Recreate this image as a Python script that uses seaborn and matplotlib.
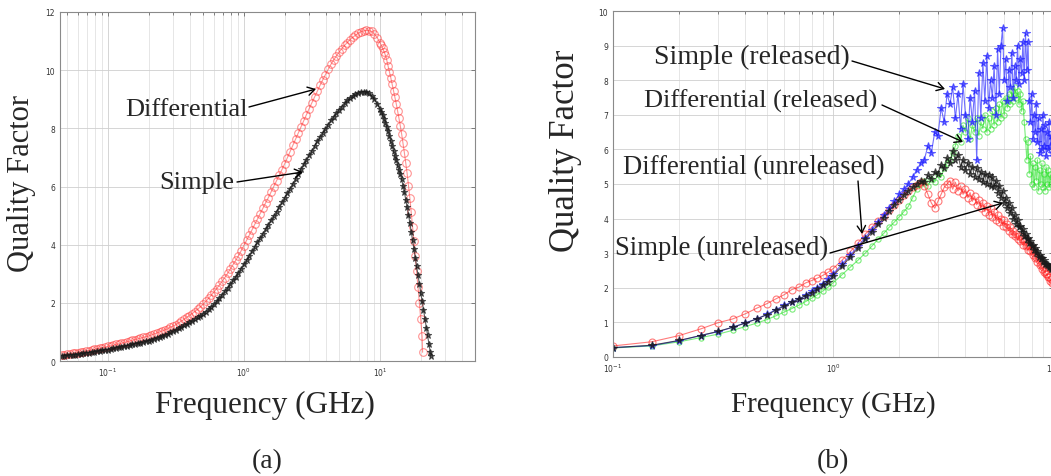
import numpy as np
import matplotlib
matplotlib.use("Agg")
import matplotlib.pyplot as plt
import matplotlib.patches as mpatches
import seaborn as sns

# ---------------- data: panel (a) ----------------
# frequency (GHz), shared by both curves up to ~9.5 GHz
freq_a_common = [0.0457, 0.0479, 0.0501, 0.0525, 0.0550, 0.0575, 0.0603, 0.0631, 0.0661, 0.0692,
                 0.0724, 0.0759, 0.0794, 0.0832, 0.0871, 0.0912, 0.0955, 0.1000, 0.1047, 0.1096,
                 0.1148, 0.1202, 0.1259, 0.1318, 0.1380, 0.1445, 0.1514, 0.1585, 0.1660, 0.1738,
                 0.1820, 0.1905, 0.1995, 0.2089, 0.2188, 0.2291, 0.2399, 0.2512, 0.2630, 0.2754,
                 0.2884, 0.3020, 0.3162, 0.3311, 0.3467, 0.3631, 0.3802, 0.3981, 0.4169, 0.4365,
                 0.4571, 0.4786, 0.5012, 0.5248, 0.5495, 0.5754, 0.6026, 0.6310, 0.6607, 0.6918,
                 0.7244, 0.7586, 0.7943, 0.8318, 0.8710, 0.9120, 0.9550, 1.000, 1.047, 1.096,
                 1.148, 1.202, 1.259, 1.318, 1.380, 1.445, 1.514, 1.585, 1.660, 1.738,
                 1.820, 1.905, 1.995, 2.089, 2.188, 2.291, 2.399, 2.512, 2.630, 2.754,
                 2.884, 3.020, 3.162, 3.311, 3.467, 3.631, 3.802, 3.981, 4.169, 4.365,
                 4.571, 4.786, 5.012, 5.248, 5.495, 5.754, 6.026, 6.310, 6.607, 6.918,
                 7.244, 7.586, 7.943, 8.318, 8.710, 9.120, 9.550]

q_diff_common = [0.20, 0.215, 0.23, 0.245, 0.26, 0.275, 0.29, 0.305, 0.32, 0.34,
                 0.36, 0.38, 0.40, 0.42, 0.44, 0.46, 0.48, 0.50, 0.52, 0.545,
                 0.57, 0.59, 0.61, 0.635, 0.66, 0.685, 0.71, 0.735, 0.76, 0.785,
                 0.81, 0.835, 0.86, 0.895, 0.93, 0.965, 1.00, 1.035, 1.07, 1.11,
                 1.16, 1.20, 1.25, 1.31, 1.37, 1.43, 1.50, 1.56, 1.63, 1.70,
                 1.78, 1.86, 1.95, 2.05, 2.15, 2.26, 2.37, 2.49, 2.61, 2.74,
                 2.87, 3.01, 3.16, 3.31, 3.46, 3.62, 3.79, 3.97, 4.15, 4.33,
                 4.51, 4.70, 4.88, 5.07, 5.25, 5.44, 5.62, 5.81, 6.00, 6.19,
                 6.38, 6.58, 6.78, 6.99, 7.20, 7.41, 7.62, 7.84, 8.05, 8.26,
                 8.47, 8.68, 8.88, 9.08, 9.28, 9.48, 9.67, 9.85, 10.03, 10.20,
                 10.35, 10.49, 10.62, 10.74, 10.85, 10.95, 11.05, 11.13, 11.20, 11.27,
                 11.32, 11.35, 11.37, 11.36, 11.33, 11.24, 11.12]

q_simp_common = [0.17, 0.18, 0.19, 0.20, 0.21, 0.22, 0.23, 0.245, 0.26, 0.275,
                 0.29, 0.305, 0.32, 0.335, 0.35, 0.365, 0.38, 0.395, 0.41, 0.43,
                 0.45, 0.47, 0.49, 0.51, 0.53, 0.55, 0.57, 0.59, 0.61, 0.63,
                 0.65, 0.675, 0.70, 0.73, 0.76, 0.795, 0.83, 0.865, 0.90, 0.94,
                 0.98, 1.025, 1.07, 1.12, 1.17, 1.225, 1.28, 1.335, 1.39, 1.445,
                 1.50, 1.56, 1.62, 1.70, 1.78, 1.865, 1.95, 2.05, 2.16, 2.28,
                 2.40, 2.52, 2.64, 2.77, 2.90, 3.04, 3.18, 3.32, 3.47, 3.62,
                 3.77, 3.92, 4.08, 4.23, 4.38, 4.53, 4.69, 4.84, 4.99, 5.14,
                 5.30, 5.45, 5.60, 5.76, 5.93, 6.09, 6.26, 6.43, 6.60, 6.76,
                 6.92, 7.07, 7.23, 7.39, 7.55, 7.70, 7.85, 7.99, 8.13, 8.27,
                 8.40, 8.52, 8.64, 8.75, 8.86, 8.96, 9.04, 9.11, 9.17, 9.22,
                 9.26, 9.26, 9.25, 9.20, 9.12, 9.00, 8.85]

freq_diff_tail = [10.00, 10.23, 10.47, 10.72, 10.96, 11.22, 11.48, 11.75, 12.02, 12.30,
                  12.59, 12.88, 13.18, 13.49, 13.80, 14.13, 14.45, 14.79, 15.14, 15.49,
                  15.85, 16.22, 16.60, 16.98, 17.38, 17.78, 18.20, 18.62, 19.05, 19.50,
                  19.95, 20.42, 20.6]
q_diff_tail = [10.95, 10.86, 10.75, 10.64, 10.52, 10.35, 10.15, 9.95, 9.74, 9.52,
               9.30, 9.08, 8.85, 8.60, 8.35, 8.08, 7.80, 7.48, 7.15, 6.80,
               6.45, 6.03, 5.60, 5.12, 4.62, 4.12, 3.60, 3.08, 2.55, 2.00,
               1.45, 0.85, 0.30]

freq_simp_tail = [10.00, 10.23, 10.47, 10.72, 10.96, 11.22, 11.48, 11.75, 12.02, 12.30,
                  12.59, 12.88, 13.18, 13.49, 13.80, 14.13, 14.45, 14.79, 15.14, 15.49,
                  15.85, 16.22, 16.60, 16.98, 17.38, 17.78, 18.20, 18.62, 19.05, 19.50,
                  19.95, 20.42, 20.89, 21.38, 21.88, 22.39, 22.91, 23.44, 23.7]
q_simp_tail = [8.68, 8.57, 8.45, 8.33, 8.20, 8.05, 7.90, 7.73, 7.55, 7.38,
               7.22, 7.06, 6.90, 6.74, 6.58, 6.42, 6.25, 6.03, 5.80, 5.55,
               5.30, 5.03, 4.75, 4.45, 4.15, 3.85, 3.55, 3.25, 2.95, 2.65,
               2.35, 2.05, 1.75, 1.45, 1.15, 0.88, 0.60, 0.32, 0.17]

# ---------------- data: panel (b) ----------------
freq_b = [0.10, 0.15, 0.20, 0.25, 0.30, 0.35, 0.40, 0.45, 0.50, 0.55, 0.60, 0.65, 0.70, 0.75,
          0.80, 0.85, 0.90, 0.95, 1.00,
          1.1, 1.2, 1.3, 1.4, 1.5, 1.6, 1.7, 1.8, 1.9, 2.0,
          2.1, 2.2, 2.3, 2.4, 2.5, 2.6, 2.7, 2.8, 2.9, 3.0,
          3.1, 3.2, 3.3, 3.4, 3.5, 3.6, 3.7, 3.8, 3.9, 4.0,
          4.1, 4.2, 4.3, 4.4, 4.5, 4.6, 4.7, 4.8, 4.9, 5.0,
          5.1, 5.2, 5.3, 5.4, 5.5, 5.6, 5.7, 5.8, 5.9, 6.0,
          6.1, 6.2, 6.3, 6.4, 6.5, 6.6, 6.7, 6.8, 6.9, 7.0,
          7.1, 7.2, 7.3, 7.4, 7.5, 7.6, 7.7, 7.8, 7.9, 8.0,
          8.1, 8.2, 8.3, 8.4, 8.5, 8.6, 8.7, 8.8, 8.9, 9.0,
          9.1, 9.2, 9.3, 9.4, 9.5, 9.6, 9.7, 9.8, 9.9, 10.0]

q_simple_rel = [0.27, 0.33, 0.47, 0.62, 0.73, 0.86, 0.99, 1.10, 1.23, 1.37, 1.49, 1.60, 1.68, 1.78,
                1.90, 2.00, 2.12, 2.25, 2.40,
                2.68, 2.95, 3.20, 3.45, 3.68, 3.90, 4.10, 4.30, 4.50, 4.70,
                4.85, 5.00, 5.20, 5.40, 5.60, 5.70, 6.10, 5.90, 6.50, 6.40,
                7.20, 6.80, 7.60, 7.30, 7.80, 6.90, 7.60, 6.60, 7.90, 7.00,
                6.30, 7.50, 6.80, 7.70, 5.70, 8.20, 6.90, 8.50, 7.40, 8.70,
                7.20, 8.00, 7.50, 8.40, 7.00, 8.90, 7.60, 9.00, 9.50, 8.00,
                8.60, 7.40, 8.30, 7.80, 8.80, 7.50, 8.40, 8.00, 9.00, 7.90,
                8.60, 8.20, 9.10, 8.00, 9.35, 8.30, 9.10, 7.40, 6.80, 7.60,
                6.30, 7.00, 6.50, 7.30, 6.20, 6.90, 5.90, 6.60, 6.00, 7.00,
                6.10, 6.70, 5.80, 6.50, 6.00, 6.80, 6.10, 6.40, 5.90, 6.30]

q_diff_rel = [0.26, 0.32, 0.44, 0.56, 0.66, 0.77, 0.88, 0.98, 1.08, 1.19, 1.30, 1.40, 1.50, 1.60,
              1.70, 1.80, 1.91, 2.02, 2.14,
              2.38, 2.60, 2.80, 3.00, 3.20, 3.40, 3.57, 3.75, 3.90, 4.05,
              4.20, 4.35, 4.60, 4.85, 5.00, 5.10, 4.95, 5.15, 5.05, 5.30,
              5.20, 5.45, 5.60, 5.70, 5.90, 6.10, 6.40, 6.20, 6.70, 6.50,
              6.90, 6.30, 6.70, 6.50, 6.90, 6.40, 6.80, 6.60, 7.00, 6.50,
              6.90, 6.60, 7.10, 6.70, 7.20, 6.80, 7.30, 6.90, 7.40, 7.00,
              7.50, 7.20, 7.60, 7.30, 7.70, 7.40, 7.80, 7.50, 7.70, 7.30,
              7.60, 7.10, 7.40, 6.80, 6.30, 5.70, 6.20, 5.30, 5.80, 5.00,
              5.60, 4.90, 5.50, 5.10, 5.70, 4.80, 5.40, 5.00, 5.60, 4.90,
              5.30, 4.80, 5.50, 5.00, 5.40, 4.90, 5.30, 5.00, 5.20, 4.90]

q_diff_unrel = [0.32, 0.44, 0.62, 0.81, 0.99, 1.10, 1.25, 1.41, 1.54, 1.68, 1.80, 1.95, 2.02, 2.14,
                2.21, 2.28, 2.36, 2.45, 2.55,
                2.80, 3.05, 3.30, 3.55, 3.75, 3.92, 4.08, 4.25, 4.40, 4.55,
                4.68, 4.80, 4.90, 4.97, 5.05, 4.95, 4.70, 4.45, 4.30, 4.50,
                4.70, 4.90, 5.00, 5.10, 4.85, 5.05, 4.80, 4.95, 4.70, 4.85,
                4.60, 4.75, 4.50, 4.65, 4.40, 4.55, 4.30, 4.45, 4.20, 4.35,
                4.10, 4.30, 4.05, 4.20, 3.95, 4.10, 3.90, 4.00, 3.80, 3.95,
                3.75, 3.85, 3.65, 3.75, 3.55, 3.65, 3.50, 3.55, 3.40, 3.50,
                3.35, 3.40, 3.25, 3.35, 3.20, 3.25, 3.10, 3.20, 3.05, 3.10,
                2.95, 3.00, 2.85, 2.90, 2.75, 2.80, 2.65, 2.70, 2.55, 2.60,
                2.45, 2.50, 2.40, 2.40, 2.30, 2.30, 2.20, 2.25, 2.15, 2.20]

q_simple_unrel = [0.27, 0.34, 0.48, 0.62, 0.74, 0.86, 0.98, 1.10, 1.22, 1.35, 1.47, 1.58, 1.67, 1.77,
                  1.86, 1.96, 2.07, 2.18, 2.35,
                  2.62, 2.90, 3.15, 3.40, 3.62, 3.83, 4.03, 4.22, 4.40, 4.55,
                  4.68, 4.80, 4.90, 5.00, 5.10, 5.05, 5.25, 5.15, 5.35, 5.30,
                  5.55, 5.45, 5.75, 5.60, 5.95, 5.70, 5.85, 5.50, 5.70, 5.40,
                  5.60, 5.30, 5.50, 5.20, 5.45, 5.15, 5.35, 5.05, 5.30, 5.00,
                  5.25, 4.95, 5.20, 4.90, 5.10, 4.75, 4.95, 4.60, 4.80, 4.45,
                  4.60, 4.30, 4.45, 4.15, 4.30, 4.00, 4.10, 3.85, 3.95, 3.75,
                  3.80, 3.60, 3.70, 3.50, 3.55, 3.40, 3.45, 3.30, 3.35, 3.20,
                  3.25, 3.10, 3.15, 3.00, 3.05, 2.90, 2.95, 2.85, 2.85, 2.75,
                  2.80, 2.70, 2.70, 2.65, 2.65, 2.60, 2.60, 2.55, 2.55, 2.50]

yticks_a = [0, 2, 4, 6, 8, 10, 12]
yticks_b = [0, 1, 2, 3, 4, 5, 6, 7, 8, 9, 10]
xticks_log = [0.1, 1, 10]

# ---------------- figure ----------------
sns.set_style("white")
plt.rcParams["font.family"] = ["DejaVu Sans"]
plt.rcParams["mathtext.fontset"] = "dejavusans"
SERIF = ["Liberation Serif", "DejaVu Serif"]

W, H = 1051, 477
fig = plt.figure(figsize=(W / 100, H / 100), dpi=100)


def fx(x):
    return x / W


def fy(y):
    return 1 - y / H


axA = fig.add_axes([60 / W, 1 - 362 / H, 415 / W, 349 / H])
axB = fig.add_axes([613 / W, 1 - 358 / H, 440 / W, 346 / H])


def draw(ax, x, y, color, marker, ms, alpha, mfc="none", mew=0.8, lw=0.8):
    sns.lineplot(x=np.asarray(x, float), y=np.asarray(y, float), ax=ax, color=color,
                 marker=marker, markersize=ms, markerfacecolor=mfc,
                 markeredgecolor=color, markeredgewidth=mew, linewidth=lw,
                 alpha=alpha, estimator=None, sort=False, legend=False)


draw(axA, freq_a_common + freq_diff_tail, q_diff_common + q_diff_tail,
     "#ff2a2a", "o", 5.5, 0.5)
draw(axA, freq_a_common + freq_simp_tail, q_simp_common + q_simp_tail,
     "#1a1a1a", "*", 5.0, 0.7, mfc="#1a1a1a")

draw(axB, freq_b, q_diff_rel, "#22e022", "o", 3.8, 0.6)
draw(axB, freq_b, q_diff_unrel, "#ff2222", "o", 5.0, 0.6)
draw(axB, freq_b, q_simple_rel, "#2020ff", "*", 5.5, 0.65, mfc="#2020ff")
draw(axB, freq_b, q_simple_unrel, "#1a1a1a", "*", 5.5, 0.7, mfc="#1a1a1a")

for ax, yt in ((axA, yticks_a), (axB, yticks_b)):
    ax.set_xscale("log")
    ax.set_xticks(xticks_log)
    ax.set_yticks(yt)
    ax.set_ylim(yt[0], yt[-1])
    ax.set_xlabel("")
    ax.set_ylabel("")
    ax.grid(True, which="major", color="#cfcfcf", lw=0.6)
    ax.grid(True, which="minor", axis="x", color="#dcdcdc", lw=0.5)
    ax.tick_params(which="both", direction="in", top=True, right=True,
                   labelsize=5.5, colors="#555555", labelcolor="#333333", width=0.5)
    ax.tick_params(which="major", length=3)
    ax.tick_params(which="minor", length=1.8)
    for s in ax.spines.values():
        s.set_color("#8a8a8a")
        s.set_linewidth(0.8)

axA.set_xlim(0.0445, 50)
axB.set_xlim(0.1, 10)

# ---------------- labels ----------------
fig.text(fx(22), fy(184), "Quality Factor", rotation=90, ha="center", va="center",
         fontsize=22, family=SERIF)
fig.text(fx(565), fy(151), "Quality Factor", rotation=90, ha="center", va="center",
         fontsize=25, family=SERIF)
fig.text(fx(265), fy(405), "Frequency (GHz)", ha="center", va="center", fontsize=22.5, family=SERIF)
fig.text(fx(833), fy(405), "Frequency (GHz)", ha="center", va="center", fontsize=21, family=SERIF)
fig.text(fx(267), fy(462), "(a)", ha="center", va="center", fontsize=20, family=SERIF)
fig.text(fx(833), fy(462), "(b)", ha="center", va="center", fontsize=20, family=SERIF)

# annotations: (text, text centre, arrow start, arrow tip, size)
notes = [
    ("Differential", (186, 110), (249, 108), (316, 90), 19),
    ("Simple", (197, 183), (237, 183), (303, 173), 19),
    ("Simple (released)", (752, 57), (852, 62), (945, 90), 20),
    ("Differential (released)", (761, 101), (882, 106), (963, 143), 19),
    ("Differential (unreleased)", (754, 168), (858, 182), (862, 235), 19.2),
    ("Simple (unreleased)", (722, 248), (830, 254), (1003, 204), 19.2),
]
for txt, (tx, ty), (sx, sy), (ex, ey), fs in notes:
    fig.text(fx(tx), fy(ty), txt, ha="center", va="center", fontsize=fs, family=SERIF)
    fig.add_artist(mpatches.FancyArrowPatch(
        (fx(sx), fy(sy)), (fx(ex), fy(ey)), transform=fig.transFigure,
        arrowstyle="->,head_length=5,head_width=3", color="black", lw=1.0,
        shrinkA=0, shrinkB=0))

fig.savefig("out.png", dpi=100)
